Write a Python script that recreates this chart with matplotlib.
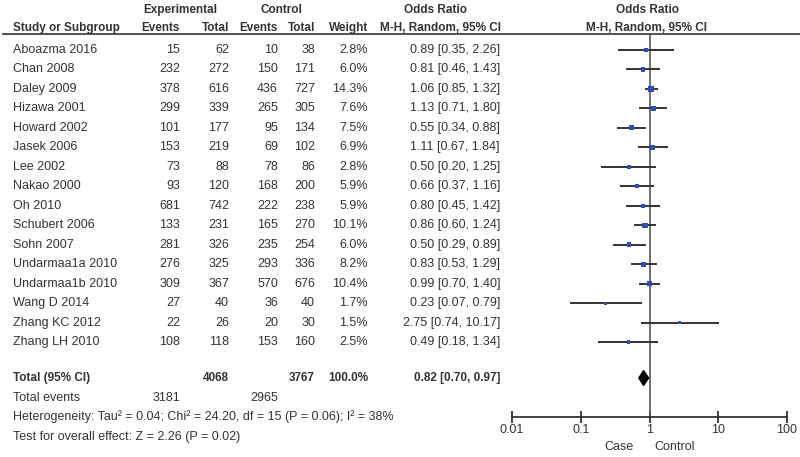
import matplotlib
matplotlib.use("Agg")
import matplotlib.pyplot as plt
import numpy as np

plt.rcParams['font.family'] = ['Liberation Sans', 'DejaVu Sans']

studies = ["Aboazma 2016", "Chan 2008", "Daley 2009", "Hizawa 2001", "Howard 2002",
           "Jasek 2006", "Lee 2002", "Nakao 2000", "Oh 2010", "Schubert 2006",
           "Sohn 2007", "Undarmaa1a 2010", "Undarmaa1b 2010", "Wang D 2014",
           "Zhang KC 2012", "Zhang LH 2010"]
expEvents = [15, 232, 378, 299, 101, 153, 73, 93, 681, 133, 281, 276, 309, 27, 22, 108]
expTotal  = [62, 272, 616, 339, 177, 219, 88, 120, 742, 231, 326, 325, 367, 40, 26, 118]
ctlEvents = [10, 150, 436, 265, 95, 69, 78, 168, 222, 165, 235, 293, 570, 36, 20, 153]
ctlTotal  = [38, 171, 727, 305, 134, 102, 86, 200, 238, 270, 254, 336, 676, 40, 30, 160]
weights   = [2.8, 6.0, 14.3, 7.6, 7.5, 6.9, 2.8, 5.9, 5.9, 10.1, 6.0, 8.2, 10.4, 1.7, 1.5, 2.5]
oddsRatio = [0.89, 0.81, 1.06, 1.13, 0.55, 1.11, 0.50, 0.66, 0.80, 0.86, 0.50, 0.83, 0.99, 0.23, 2.75, 0.49]
ciLow     = [0.35, 0.46, 0.85, 0.71, 0.34, 0.67, 0.20, 0.37, 0.45, 0.60, 0.29, 0.53, 0.70, 0.07, 0.74, 0.18]
ciHigh    = [2.26, 1.43, 1.32, 1.80, 0.88, 1.84, 1.25, 1.16, 1.42, 1.24, 0.89, 1.29, 1.40, 0.79, 10.17, 1.34]

totalExp, totalCtl = 4068, 3767
totalEventsExp, totalEventsCtl = 3181, 2965
pooledOR, pooledLow, pooledHigh = 0.82, 0.70, 0.97
heterogeneity = "Heterogeneity: Tau\u00b2 = 0.04; Chi\u00b2 = 24.20, df = 15 (P = 0.06); I\u00b2 = 38%"
overallEffect = "Test for overall effect: Z = 2.26 (P = 0.02)"
tickVals   = [0.01, 0.1, 1, 10, 100]
tickLabels = ["0.01", "0.1", "1", "10", "100"]

txtColor = "#333333"
fs = 9
hfs = 8.5  # bold header size, reference header font is narrower

fig = plt.figure(figsize=(8, 4.57), dpi=100)
tax = fig.add_axes([0, 0, 1, 1])
tax.set_xlim(0, 800)
tax.set_ylim(457, 0)
tax.axis("off")

# forest panel spans pixel 512..787 horizontally
fax = fig.add_axes([512 / 800, 0, 275 / 800, 1])
fax.set_xscale("log")
fax.set_xlim(0.01, 100)
fax.set_ylim(457, 0)
fax.patch.set_alpha(0)

row0, step = 50, 19.47
rowY = [row0 + i * step for i in range(len(studies))]
totalY = 378

# headers
tax.text(180, 10, "Experimental", ha="center", va="center", fontsize=hfs, fontweight="bold", color=txtColor)
tax.text(281, 10, "Control", ha="center", va="center", fontsize=hfs, fontweight="bold", color=txtColor)
tax.text(435, 10, "Odds Ratio", ha="center", va="center", fontsize=hfs, fontweight="bold", color=txtColor)
tax.text(647, 10, "Odds Ratio", ha="center", va="center", fontsize=hfs, fontweight="bold", color=txtColor)
hy = 28
tax.text(13, hy, "Study or Subgroup", ha="left", va="center", fontsize=hfs, fontweight="bold", color=txtColor)
for x, lab in [(180, "Events"), (229, "Total"), (278, "Events"), (315, "Total"), (368, "Weight")]:
    tax.text(x, hy, lab, ha="right", va="center", fontsize=hfs, fontweight="bold", color=txtColor)
tax.text(501, hy, "M-H, Random, 95% CI", ha="right", va="center", fontsize=hfs, fontweight="bold", color=txtColor)
tax.text(647, hy, "M-H, Random, 95% CI", ha="center", va="center", fontsize=hfs, fontweight="bold", color=txtColor)
tax.plot([3, 800], [34, 34], color="#444444", lw=1.3)

# study rows
for i, y in enumerate(rowY):
    tax.text(13, y, studies[i], ha="left", va="center", fontsize=fs, color=txtColor)
    tax.text(180, y, str(expEvents[i]), ha="right", va="center", fontsize=fs, color=txtColor)
    tax.text(229, y, str(expTotal[i]), ha="right", va="center", fontsize=fs, color=txtColor)
    tax.text(278, y, str(ctlEvents[i]), ha="right", va="center", fontsize=fs, color=txtColor)
    tax.text(315, y, str(ctlTotal[i]), ha="right", va="center", fontsize=fs, color=txtColor)
    tax.text(368, y, "%.1f%%" % weights[i], ha="right", va="center", fontsize=fs, color=txtColor)
    tax.text(500, y, "%.2f [%.2f, %.2f]" % (oddsRatio[i], ciLow[i], ciHigh[i]),
             ha="right", va="center", fontsize=fs, color=txtColor)

# totals
tax.text(13, totalY, "Total (95% CI)", ha="left", va="center", fontsize=hfs, fontweight="bold", color=txtColor)
tax.text(229, totalY, str(totalExp), ha="right", va="center", fontsize=hfs, fontweight="bold", color=txtColor)
tax.text(315, totalY, str(totalCtl), ha="right", va="center", fontsize=hfs, fontweight="bold", color=txtColor)
tax.text(368, totalY, "100.0%", ha="right", va="center", fontsize=hfs, fontweight="bold", color=txtColor)
tax.text(500, totalY, "%.2f [%.2f, %.2f]" % (pooledOR, pooledLow, pooledHigh),
         ha="right", va="center", fontsize=hfs, fontweight="bold", color=txtColor)
tax.text(13, 398, "Total events", ha="left", va="center", fontsize=fs, color=txtColor)
tax.text(180, 398, str(totalEventsExp), ha="right", va="center", fontsize=fs, color=txtColor)
tax.text(278, 398, str(totalEventsCtl), ha="right", va="center", fontsize=fs, color=txtColor)
tax.text(13, 417, heterogeneity, ha="left", va="center", fontsize=fs, color=txtColor)
tax.text(13, 437, overallEffect, ha="left", va="center", fontsize=fs, color=txtColor)

# forest plot
fax.plot([1, 1], [34, 417], color="#555555", lw=1.2)
fax.hlines(rowY, ciLow, ciHigh, color="#333333", lw=1.4)
# square side grows with weight, small studies still show a dot
sizes = [((1.2 * np.sqrt(w) + 1.5) * 0.72) ** 2 for w in weights]
fax.scatter(oddsRatio, rowY, s=sizes, marker="s", color="#2c4fb0", zorder=3, linewidths=0)
fax.fill([pooledLow, pooledOR, pooledHigh, pooledOR],
         [totalY, totalY - 7.5, totalY, totalY + 7.5], color="black", zorder=3)

for side in ["left", "right", "top"]:
    fax.spines[side].set_visible(False)
fax.spines["bottom"].set_position(("data", 417))
fax.spines["bottom"].set_color("#333333")
fax.spines["bottom"].set_linewidth(1.3)
fax.set_yticks([])
fax.set_xticks(tickVals)
fax.set_xticklabels(tickLabels)
fax.minorticks_off()
fax.tick_params(axis="x", direction="inout", length=8, width=1.3, color="#333333",
                labelsize=fs, labelcolor=txtColor, pad=1)
fax.text(0.58, 447, "Case", ha="right", va="center", fontsize=fs, color=txtColor)
fax.text(1.18, 447, "Control", ha="left", va="center", fontsize=fs, color=txtColor)

fig.savefig("out.png", dpi=100)
